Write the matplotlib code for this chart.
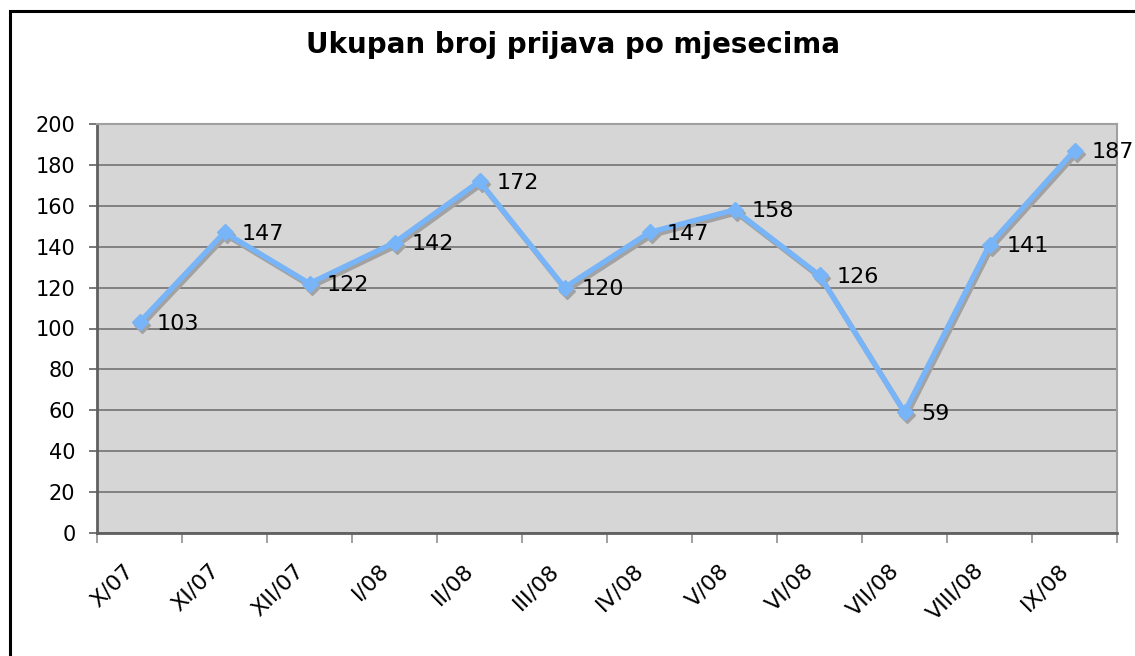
import matplotlib
matplotlib.use("Agg")
import matplotlib.pyplot as plt
from matplotlib.patches import Rectangle
from matplotlib.transforms import ScaledTranslation
import numpy as np

months = ["X/07", "XI/07", "XII/07", "I/08", "II/08", "III/08", "IV/08",
          "V/08", "VI/08", "VII/08", "VIII/08", "IX/08"]
values = [103, 147, 122, 142, 172, 120, 147, 158, 126, 59, 141, 187]
y_ticks = [0, 20, 40, 60, 80, 100, 120, 140, 160, 180, 200]
title = "Ukupan broj prijava po mjesecima"

W, H = 1135, 656
DPI = 100
fig = plt.figure(figsize=(W / DPI, H / DPI), dpi=DPI)
fig.patch.set_facecolor("white")

# outer border (only top and left visible in the crop)
fig.add_artist(Rectangle((9.5 / W, -0.1), 1.2, (H - 10.5) / H + 0.1,
                         transform=fig.transFigure, fill=False,
                         edgecolor="black", linewidth=2.2))

left, right, top, bottom = 97, 1117, 124, 533
ax = fig.add_axes([left / W, 1 - bottom / H, (right - left) / W, (bottom - top) / H])
ax.set_facecolor("#d6d6d6")

def px(dx, dy):
    return ScaledTranslation(dx / DPI, dy / DPI, fig.dpi_scale_trans)

x = np.arange(len(months))
# shadow
ax.plot(x, values, color="#a2a2a2", linewidth=3.8, marker="D", markersize=8.5,
        solid_joinstyle="miter", zorder=3, transform=ax.transData + px(2, -3))
ax.plot(x, values, color="#78b4f8", linewidth=3.8, marker="D", markersize=8.5,
        solid_joinstyle="miter", zorder=4)

for xi, v in zip(x, values):
    ax.annotate(str(v), (xi, v), xytext=(12, -1), textcoords="offset points",
                ha="left", va="center", fontsize=16, color="black", zorder=5,
                annotation_clip=False)

ax.set_xlim(-0.5, len(months) - 0.5)
ax.set_ylim(0, 200)
ax.set_yticks(y_ticks)
ax.yaxis.grid(True, color="#6a6a6a", linewidth=1.1)
ax.set_axisbelow(True)
ax.tick_params(axis="y", direction="out", length=6, width=1.2, color="#606060",
               labelsize=15, pad=9.5)

# category labels (rotated), placed below each category centre
ax.set_xticks([])
for xi, m in zip(x, months):
    ax.text(xi, 0, m, rotation=45, ha="right", va="top", rotation_mode="anchor",
            fontsize=16, transform=ax.transData + px(-16, -27))
ax.set_xticks(np.arange(len(months) + 1) - 0.5, minor=True)
ax.tick_params(axis="x", which="minor", direction="out", length=7, width=1.2,
               color="#909090")

for s in ["left", "bottom"]:
    ax.spines[s].set_color("#606060")
    ax.spines[s].set_linewidth(2)
for s in ["top", "right"]:
    ax.spines[s].set_color("#a0a0a0")
    ax.spines[s].set_linewidth(1.5)

fig.text(573 / W, 1 - 45 / H, title, ha="center", va="center",
         fontsize=20, fontweight="bold")

fig.savefig("out.png", dpi=DPI)
